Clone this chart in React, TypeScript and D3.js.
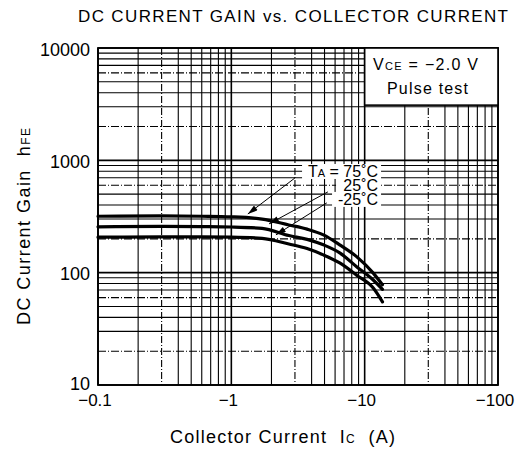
import React from 'react';
import * as d3 from 'd3';

// collector current (A, magnitude) and DC current gain for each ambient temperature
const currents = [0.1, 0.3, 0.6, 1.0, 1.7, 2.7, 3.7, 4.9, 6.5, 8.7, 11.6, 13.6];
const gain75 = [318, 320, 318, 314, 300, 266, 244, 217, 177, 139, 99, 78];
const gain25 = [256, 258, 257, 255, 248, 214, 198, 177, 150, 113, 86, 71];
const gainM25 = [207, 208, 208, 207, 202, 180, 164, 144, 122, 95, 73, 55];

const xTicks = [0.1, 1, 10, 100];
const xTickLabels = ['−0.1', '−1', '−10', '−100'];
const yTicks = [10, 100, 1000, 10000];
const yTickLabels = ['10', '100', '1000', '10000'];

// temperature callouts: label baseline, arrow start, arrow tip (data units)
const tempLabels = ['75˚C', '25˚C', '-25˚C'];
const labelGain = [711, 533, 401];
const labelWidth = [76, 42, 46];
const arrowFrom: [number, number][] = [[3.0, 697], [5.3, 524], [5.2, 418]];
const arrowTo: [number, number][] = [[1.33, 333], [1.92, 272], [2.16, 217]];

const W = 519;
const H = 451;
const FONT = '"Liberation Sans", Arial, Helvetica, sans-serif';

const App: React.FC = () => {
  const x = d3.scaleLog().domain([0.1, 100]).range([98, 498]);
  const y = d3.scaleLog().domain([10, 10000]).range([385, 48]);

  const line = d3
    .line<[number, number]>()
    .x(d => x(d[0]))
    .y(d => y(d[1]))
    .curve(d3.curveMonotoneX);

  const series = [gain75, gain25, gainM25].map(g =>
    currents.map((c, i) => [c, g[i]] as [number, number])
  );

  const lead = (v: number) => Math.round(v / Math.pow(10, Math.floor(Math.log10(v) + 1e-9)));

  const [x0, x1] = x.range();
  const [y0, y1] = y.range();
  const labelX = x(12.6);

  return (
    <svg
      width={W}
      height={H}
      style={{ position: 'absolute', left: 0, top: 0, background: '#fff' }}
      fontFamily={FONT}
    >
      <defs>
        <marker id="ah" viewBox="0 0 10 6" refX="10" refY="3" markerWidth="11" markerHeight="6" markerUnits="userSpaceOnUse" orient="auto">
          <path d="M0,0 L10,3 L0,6 Z" fill="#000" />
        </marker>
      </defs>

      {/* title */}
      <text x={78} y={22} fontSize={17} textLength={430} lengthAdjust="spacing">
        DC CURRENT GAIN vs. COLLECTOR CURRENT
      </text>

      {/* grid */}
      <g stroke="#000">
        {x.ticks().map((t, i) => {
          const major = lead(t) === 1;
          return (
            <line
              key={'gx' + i}
              x1={x(t)}
              x2={x(t)}
              y1={y1}
              y2={y0}
              strokeWidth={major ? 1.6 : 1.1}
              strokeDasharray={lead(t) === 3 ? '7,2,1,2' : undefined}
            />
          );
        })}
        {y.ticks().map((t, i) => {
          const major = lead(t) === 1;
          const dashed = lead(t) === 2 || lead(t) === 6;
          return (
            <line
              key={'gy' + i}
              x1={x0}
              x2={x1}
              y1={y(t)}
              y2={y(t)}
              strokeWidth={major ? 1.6 : 1.1}
              strokeDasharray={dashed ? '8,2,1,2' : undefined}
            />
          );
        })}
      </g>

      {/* frame */}
      <rect x={x0} y={y1} width={x1 - x0} height={y0 - y1} fill="none" stroke="#000" strokeWidth={1.8} />

      {/* condition box */}
      <rect
        x={x(10)}
        y={y(10000)}
        width={x(100) - x(10)}
        height={y(3100) - y(10000)}
        fill="#fff"
        stroke="#000"
        strokeWidth={1.6}
      />
      <text x={373} y={70} fontSize={16} textLength={105} lengthAdjust="spacing">
        V<tspan fontSize={11}>CE</tspan> = −2.0 V
      </text>
      <text x={387} y={94} fontSize={16} textLength={81} lengthAdjust="spacing">
        Pulse test
      </text>

      {/* white patches behind the temperature labels */}
      {tempLabels.map((_, i) => (
        <rect
          key={'h' + i}
          x={labelX - labelWidth[i]}
          y={y(labelGain[i]) - 13}
          width={labelWidth[i] + 3}
          height={15}
          fill="#fff"
        />
      ))}

      {/* curves */}
      {series.map((s, i) => (
        <path key={'c' + i} d={line(s) || ''} fill="none" stroke="#000" strokeWidth={3.2} strokeLinecap="round" />
      ))}

      {/* temperature callouts */}
      {arrowFrom.map((f, i) => (
        <line
          key={'a' + i}
          x1={x(f[0])}
          y1={y(f[1])}
          x2={x(arrowTo[i][0])}
          y2={y(arrowTo[i][1])}
          stroke="#000"
          strokeWidth={1}
          markerEnd="url(#ah)"
        />
      ))}
      {tempLabels.map((l, i) => (
        <text key={'t' + i} x={labelX} y={y(labelGain[i])} fontSize={16} textAnchor="end">
          {i === 0 ? (
            <>
              T<tspan fontSize={11}>A</tspan> = {l}
            </>
          ) : (
            l
          )}
        </text>
      ))}

      {/* y tick labels */}
      {yTicks.map((t, i) => (
        <text key={'yl' + i} x={90} y={y(t) + (t === 10 ? 5 : 7.5)} fontSize={18} textAnchor="end">
          {yTickLabels[i]}
        </text>
      ))}

      {/* x tick labels */}
      {xTicks.map((t, i) => (
        <text key={'xl' + i} x={x(t) - 3} y={406} fontSize={17} textAnchor="middle">
          {xTickLabels[i]}
        </text>
      ))}

      {/* axis titles */}
      <text x={170} y={443} fontSize={18} textLength={225} lengthAdjust="spacing">
        Collector Current{'\u00a0\u00a0'}I<tspan fontSize={12}>C</tspan>{'\u00a0\u00a0'}(A)
      </text>
      <text
        transform={`translate(30,325) rotate(-90)`}
        fontSize={18}
        textLength={197}
        lengthAdjust="spacing"
      >
        DC Current Gain{'\u00a0\u00a0'}h<tspan fontSize={12}>FE</tspan>
      </text>
    </svg>
  );
};

export default App;
